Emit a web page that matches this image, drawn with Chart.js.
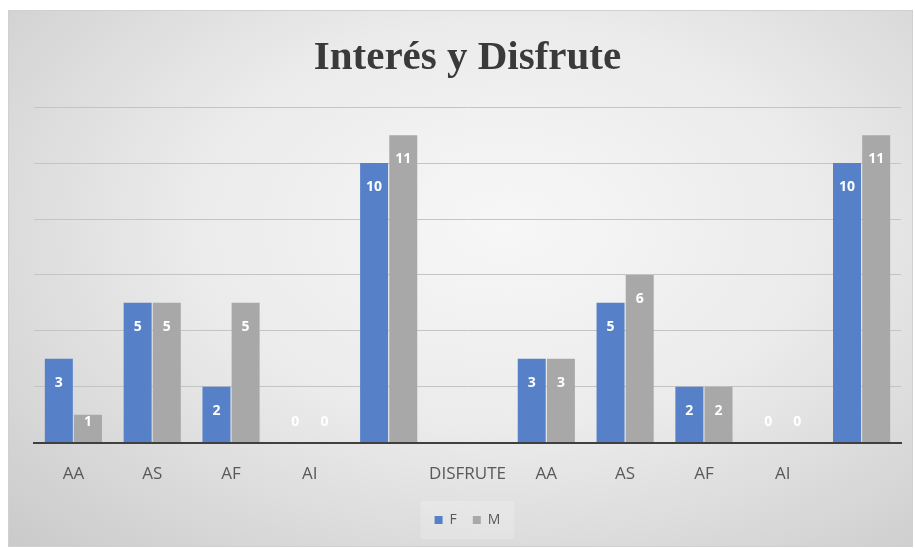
<!DOCTYPE html>
<html>
<head>
<meta charset="utf-8">
<script src="https://cdn.jsdelivr.net/npm/chart.js@4"></script>
<style>
  body { margin: 0; background: #fff; }
  #box {
    position: absolute; left: 8px; top: 10px; width: 903px; height: 535px;
    border: 1px solid #d0d0d0;
    background: radial-gradient(ellipse at 55% 40%, #f7f7f7 0%, #ebebeb 45%, #cacaca 100%);
  }
</style>
</head>
<body>
<div id="box"><canvas id="myChart" width="903" height="535"></canvas></div>
<script>
const labels = ['AA', 'AS', 'AF', 'AI', '', 'DISFRUTE', 'AA', 'AS', 'AF', 'AI', ''];
const valuesF = [3, 5, 2, 0, 10, null, 3, 5, 2, 0, 10];
const valuesM = [1, 5, 5, 0, 11, null, 3, 6, 2, 0, 11];

// white numbers inside the top of each bar, like Excel "inside end"
const barLabels = {
    id: 'barLabels',
    afterDatasetsDraw(chart) {
        const ctx = chart.ctx;
        const base = chart.scales.y.getPixelForValue(0);
        ctx.save();
        ctx.fillStyle = '#ffffff';
        ctx.font = 'bold 14px "Open Sans"';
        ctx.textAlign = 'center';
        ctx.textBaseline = 'middle';
        chart.data.datasets.forEach((ds, i) => {
            chart.getDatasetMeta(i).data.forEach((bar, j) => {
                const v = ds.data[j];
                if (v === null) return;
                const y = Math.min(bar.y + 24, base - 21);
                ctx.fillText(String(v), bar.x, y);
            });
        });
        ctx.restore();
    }
};

// light panel behind the legend
const legendPanel = {
    id: 'legendPanel',
    beforeDraw(chart) {
        const boxes = chart.legend && chart.legend.legendHitBoxes;
        if (!boxes || !boxes.length) return;
        const first = boxes[0], last = boxes[boxes.length - 1];
        const ctx = chart.ctx;
        ctx.save();
        ctx.fillStyle = 'rgba(255,255,255,0.2)';
        ctx.fillRect(first.left - 14, first.top - 12, last.left + last.width - first.left + 28, first.height + 24);
        ctx.restore();
    }
};

const data = {
    labels: labels,
    datasets: [{
        label: 'F',
        backgroundColor: '#5681c9',
        data: valuesF,
    }, {
        label: 'M',
        backgroundColor: '#a8a8a8',
        data: valuesM,
    }]
};

const config = {
    type: 'bar',
    data: data,
    plugins: [barLabels, legendPanel],
    options: {
        responsive: false,
        animation: false,
        categoryPercentage: 0.74,
        barPercentage: 0.96,
        layout: { padding: { left: 25, right: 11, top: 0, bottom: 9 } },
        plugins: {
            title: {
                display: true,
                text: 'Interés y Disfrute',
                color: '#3a3a3a',
                font: { family: '"Liberation Serif"', size: 41, weight: 'bold' },
                padding: { top: 23, bottom: 24 }
            },
            legend: {
                position: 'bottom',
                labels: {
                    boxWidth: 8,
                    boxHeight: 8,
                    color: '#595959',
                    font: { family: '"Open Sans"', size: 14 },
                    padding: 16
                }
            },
            tooltip: { enabled: false }
        },
        scales: {
            x: {
                grid: { display: false },
                border: { color: '#404040', width: 2 },
                ticks: {
                    color: '#595959',
                    font: { family: '"Open Sans"', size: 17 },
                    padding: 13,
                    maxRotation: 0,
                    autoSkip: false
                }
            },
            y: {
                min: 0,
                max: 12,
                ticks: { display: false, stepSize: 2 },
                grid: { color: '#c4c4c4', drawTicks: false },
                border: { display: false }
            }
        }
    }
};

var myChart = new Chart(
    document.getElementById('myChart'),
    config
);
</script>
</body>
</html>
